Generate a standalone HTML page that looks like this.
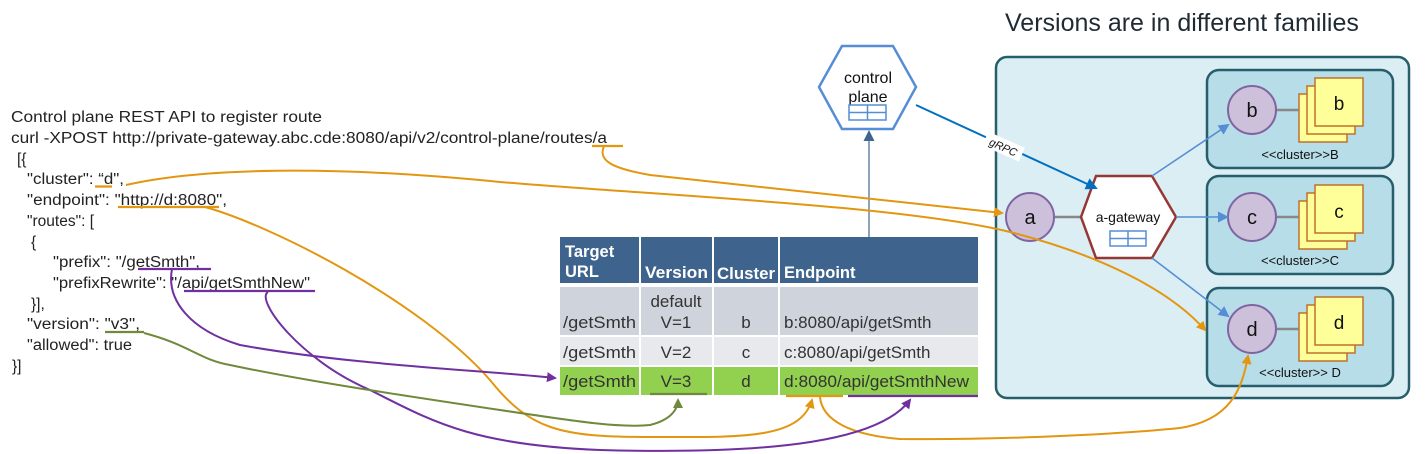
<!DOCTYPE html>
<html><head><meta charset="utf-8"><style>
html,body{margin:0;padding:0;background:#fff;}
svg{display:block;}
text{font-family:"Liberation Sans",Arial,sans-serif;}
</style></head><body>
<svg width="1425" height="454" viewBox="0 0 1425 454" xmlns="http://www.w3.org/2000/svg">
<defs>
<marker id="ao" markerWidth="10" markerHeight="10" refX="8" refY="5" orient="auto" markerUnits="userSpaceOnUse"><path d="M0,0 L10,5 L0,10 z" fill="#e3960f"/></marker>
<marker id="ap" markerWidth="10" markerHeight="10" refX="8" refY="5" orient="auto" markerUnits="userSpaceOnUse"><path d="M0,0 L10,5 L0,10 z" fill="#7030a0"/></marker>
<marker id="ag" markerWidth="10" markerHeight="10" refX="8" refY="5" orient="auto" markerUnits="userSpaceOnUse"><path d="M0,0 L10,5 L0,10 z" fill="#6e8a3a"/></marker>
<marker id="ab" markerWidth="12" markerHeight="12" refX="10" refY="6" orient="auto" markerUnits="userSpaceOnUse"><path d="M0,0 L12,6 L0,12 z" fill="#0070c0"/></marker>
<marker id="al" markerWidth="11" markerHeight="11" refX="9" refY="5.5" orient="auto" markerUnits="userSpaceOnUse"><path d="M0,0 L11,5.5 L0,11 z" fill="#558ed5"/></marker>
<marker id="ad" markerWidth="11" markerHeight="11" refX="9" refY="5.5" orient="auto" markerUnits="userSpaceOnUse"><path d="M0,0 L11,5.5 L0,11 z" fill="#3f6590"/></marker>
</defs>

<text x="1005" y="31" font-size="25" fill="#1f2a33">Versions are in different families</text>

<!-- left text -->
<g font-size="15.5" fill="#222">
<text x="11" y="122" textLength="311" lengthAdjust="spacingAndGlyphs">Control plane REST API to register route</text>
<text x="11" y="143" textLength="596" lengthAdjust="spacingAndGlyphs">curl -XPOST http://private-gateway.abc.cde:8080/api/v2/control-plane/routes/a</text>
<text x="17" y="164">[{</text>
<text x="27" y="184" textLength="97" lengthAdjust="spacingAndGlyphs">"cluster": “d",</text>
<text x="27" y="205" textLength="200" lengthAdjust="spacingAndGlyphs">"endpoint": "http://d:8080",</text>
<text x="27" y="226">"routes": [</text>
<text x="31" y="247">{</text>
<text x="53" y="267" textLength="147" lengthAdjust="spacingAndGlyphs">"prefix": "/getSmth",</text>
<text x="53" y="288" textLength="257" lengthAdjust="spacingAndGlyphs">"prefixRewrite": "/api/getSmthNew"</text>
<text x="31" y="309">}],</text>
<text x="27" y="329" textLength="113" lengthAdjust="spacingAndGlyphs">"version": "v3",</text>
<text x="27" y="350" textLength="105" lengthAdjust="spacingAndGlyphs">"allowed": true</text>
<text x="12" y="371">}]</text>
</g>
<!-- underlines -->
<g stroke-width="2.2" fill="none">
<line x1="592" y1="146" x2="623" y2="146" stroke="#e3960f"/>
<line x1="95" y1="186.5" x2="112" y2="186.5" stroke="#e3960f"/>
<line x1="118" y1="207" x2="219" y2="207" stroke="#e3960f"/>
<line x1="138" y1="269" x2="211" y2="269" stroke="#7030a0"/>
<line x1="184" y1="291" x2="315" y2="291" stroke="#7030a0"/>
<line x1="105" y1="332" x2="144" y2="332" stroke="#6e8a3a"/>
</g>

<!-- control plane -->
<polygon points="819,87 842,46 893,46 916,87 893,129 842,129" fill="#fff" stroke="#558ed5" stroke-width="2.5"/>
<text x="868" y="83" font-size="16" text-anchor="middle" fill="#111">control</text>
<text x="868" y="102" font-size="16" text-anchor="middle" fill="#111">plane</text>
<g fill="none" stroke="#558ed5" stroke-width="1.5"><rect x="849" y="105" width="37" height="15"/><line x1="849" y1="112.5" x2="886" y2="112.5"/><line x1="867.5" y1="105" x2="867.5" y2="120"/></g>
<line x1="869" y1="237" x2="869" y2="132" stroke="#3f6590" stroke-width="1.2" marker-end="url(#ad)"/>

<!-- table -->
<g>
<rect x="560" y="237" width="79" height="46" fill="#3e638d"/>
<rect x="641" y="237" width="71" height="46" fill="#3e638d"/>
<rect x="714" y="237" width="64" height="46" fill="#3e638d"/>
<rect x="780" y="237" width="198" height="46" fill="#3e638d"/>
<rect x="560" y="287" width="79" height="48" fill="#cfd4dc"/>
<rect x="641" y="287" width="71" height="48" fill="#cfd4dc"/>
<rect x="714" y="287" width="64" height="48" fill="#cfd4dc"/>
<rect x="780" y="287" width="198" height="48" fill="#cfd4dc"/>
<rect x="560" y="337" width="79" height="28" fill="#e8e9ed"/>
<rect x="641" y="337" width="71" height="28" fill="#e8e9ed"/>
<rect x="714" y="337" width="64" height="28" fill="#e8e9ed"/>
<rect x="780" y="337" width="198" height="28" fill="#e8e9ed"/>
<rect x="560" y="367" width="79" height="28" fill="#92d050"/>
<rect x="641" y="367" width="71" height="28" fill="#92d050"/>
<rect x="714" y="367" width="64" height="28" fill="#92d050"/>
<rect x="780" y="367" width="198" height="28" fill="#92d050"/>
</g>
<g font-size="16.5" font-weight="bold" fill="#fff">
<text x="565" y="257">Target</text>
<text x="565" y="277">URL</text>
<text x="645" y="278" textLength="63" lengthAdjust="spacingAndGlyphs">Version</text>
<text x="717" y="279" textLength="58" lengthAdjust="spacingAndGlyphs">Cluster</text>
<text x="784" y="278">Endpoint</text>
</g>
<g font-size="17" fill="#333">
<text x="676" y="307" text-anchor="middle">default</text>
<text x="563" y="328" textLength="73" lengthAdjust="spacingAndGlyphs">/getSmth</text><text x="676" y="328" text-anchor="middle">V=1</text><text x="746" y="328" text-anchor="middle">b</text><text x="784" y="328">b:8080/api/getSmth</text>
<text x="563" y="358" textLength="73" lengthAdjust="spacingAndGlyphs">/getSmth</text><text x="676" y="358" text-anchor="middle">V=2</text><text x="746" y="358" text-anchor="middle">c</text><text x="784" y="358">c:8080/api/getSmth</text>
<text x="563" y="387" textLength="73" lengthAdjust="spacingAndGlyphs">/getSmth</text><text x="676" y="387" text-anchor="middle">V=3</text><text x="746" y="387" text-anchor="middle">d</text><text x="784" y="387" textLength="185" lengthAdjust="spacingAndGlyphs">d:8080/api/getSmthNew</text>
</g>
<g stroke-width="2.2">
<line x1="650" y1="394" x2="707" y2="394" stroke="#6e8a3a"/>
<line x1="786" y1="396" x2="843" y2="396" stroke="#e3960f"/>
<line x1="848" y1="396" x2="978" y2="396" stroke="#7030a0"/>
</g>

<!-- right big box -->
<rect x="996" y="57" width="413" height="341" rx="11" fill="#dbeef4" stroke="#265e6b" stroke-width="2.5"/>
<g fill="#b7dde8" stroke="#265e6b" stroke-width="2.5">
<rect x="1207" y="70" width="186" height="98" rx="12"/>
<rect x="1207" y="176" width="186" height="98" rx="12"/>
<rect x="1207" y="288" width="186" height="98" rx="12"/>
</g>
<!-- stacks -->
<g stroke="#c0712a" stroke-width="1.5" fill="#ffff99">
<rect x="1299" y="94" width="48" height="48"/><rect x="1307" y="86" width="48" height="48"/><rect x="1315" y="78" width="48" height="48"/>
<rect x="1299" y="201" width="48" height="48"/><rect x="1307" y="193" width="48" height="48"/><rect x="1315" y="185" width="48" height="48"/>
<rect x="1299" y="313" width="48" height="48"/><rect x="1307" y="305" width="48" height="48"/><rect x="1315" y="297" width="48" height="48"/>
</g>
<g font-size="19" fill="#111" text-anchor="middle">
<text x="1339" y="110">b</text><text x="1339" y="218">c</text><text x="1339" y="329">d</text>
</g>
<g font-size="13" fill="#111" text-anchor="middle">
<text x="1300" y="159">&lt;&lt;cluster&gt;&gt;B</text>
<text x="1300" y="265">&lt;&lt;cluster&gt;&gt;C</text>
<text x="1300" y="377">&lt;&lt;cluster&gt;&gt; D</text>
</g>
<g stroke="#888" stroke-width="2.5">
<line x1="1055" y1="217" x2="1081" y2="217"/>
<line x1="1276" y1="110" x2="1299" y2="110"/>
<line x1="1276" y1="217" x2="1299" y2="217"/>
<line x1="1276" y1="329" x2="1299" y2="329"/>
</g>
<g fill="#ccc0da" stroke="#8064a2" stroke-width="2">
<circle cx="1030" cy="217" r="24"/><circle cx="1252" cy="110" r="24"/><circle cx="1252" cy="217" r="24"/><circle cx="1252" cy="329" r="24"/>
</g>
<g font-size="20" fill="#111" text-anchor="middle">
<text x="1030" y="224">a</text><text x="1252" y="117">b</text><text x="1252" y="224">c</text><text x="1252" y="336">d</text>
</g>
<!-- gateway -->
<polygon points="1081,217 1096,176 1152,176 1176,217 1152,258 1096,258" fill="#fff" stroke="#953735" stroke-width="2.5"/>
<text x="1128" y="222" font-size="14" text-anchor="middle" fill="#111">a-gateway</text>
<g fill="none" stroke="#558ed5" stroke-width="1.5"><rect x="1110" y="231" width="36" height="15"/><line x1="1110" y1="238.5" x2="1146" y2="238.5"/><line x1="1128" y1="231" x2="1128" y2="246"/></g>
<g stroke="#558ed5" stroke-width="1.6" fill="none">
<line x1="1152" y1="176" x2="1228" y2="125" marker-end="url(#al)"/>
<line x1="1176" y1="217" x2="1227" y2="217" marker-end="url(#al)"/>
<line x1="1152" y1="258" x2="1228" y2="316" marker-end="url(#al)"/>
</g>
<line x1="916" y1="105" x2="1096" y2="188" stroke="#0070c0" stroke-width="2" marker-end="url(#ab)"/>
<g transform="translate(1003,148) rotate(24)"><rect x="-20" y="-9" width="40" height="15" fill="#fff"/><text x="0" y="3" font-size="11" text-anchor="middle" fill="#111" font-style="italic">gRPC</text></g>

<!-- curves -->
<g fill="none" stroke-width="2">
<path d="M604,146 C598,160 610,168 650,175 L1002,213" stroke="#e3960f" marker-end="url(#ao)"/>
<path d="M126,185 C200,168 330,165 500,182 C650,195 900,205 1010,232 C1100,255 1170,290 1205,330" stroke="#e3960f" marker-end="url(#ao)"/>
<path d="M205,207 C270,225 420,300 490,380 C530,430 560,437 650,437 C740,437 800,440 812,400" stroke="#e3960f" marker-end="url(#ao)"/>
<path d="M820,397 C822,420 850,435 900,439 C980,440 1100,436 1180,428 C1230,420 1242,390 1248,356" stroke="#e3960f" marker-end="url(#ao)"/>
<path d="M172,269 C166,300 190,330 240,345 C350,365 480,370 555,378" stroke="#7030a0" marker-end="url(#ap)"/>
<path d="M268,292 C255,300 300,360 370,390 C430,420 470,445 600,450 C780,455 880,440 910,400" stroke="#7030a0" marker-end="url(#ap)"/>
<path d="M144,333 C190,345 200,360 230,365 C300,380 400,395 500,410 C580,422 620,428 650,425 C670,420 678,410 678,400" stroke="#6e8a3a" marker-end="url(#ag)"/>
</g>
</svg>
</body></html>
